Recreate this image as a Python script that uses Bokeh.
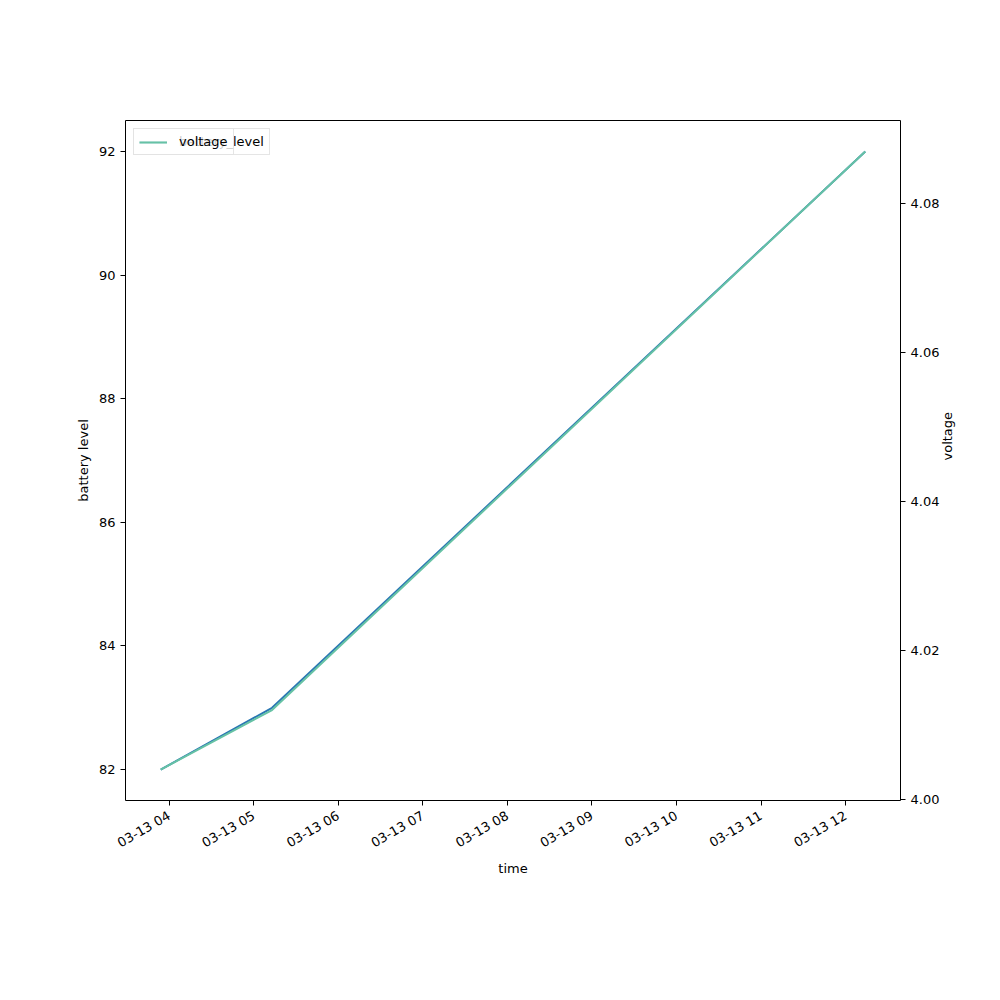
import math
from datetime import datetime
from bokeh.plotting import figure
from bokeh.models import (Range1d, LinearAxis, Legend, LegendItem, DatetimeTickFormatter,
                          FixedTicker, NumeralTickFormatter)
from bokeh.embed import file_html
from bokeh.resources import INLINE

# ---- data ----
times = [datetime(2024, 3, 13, 3, 54), datetime(2024, 3, 13, 5, 13), datetime(2024, 3, 13, 12, 14)]
battery_level = [82, 83, 92]
voltage = [4.004, 4.012, 4.087]
x_tick_hours = [4, 5, 6, 7, 8, 9, 10, 11, 12]
left_ticks = [82, 84, 86, 88, 90, 92]
right_ticks = [4.00, 4.02, 4.04, 4.06, 4.08]

FONT = "DejaVu Sans"

def ms(d):
    return (d - datetime(1970, 1, 1)).total_seconds() * 1000.0

tx = [ms(t) for t in times]
xpad = (max(tx) - min(tx)) * 0.05
bpad = (max(battery_level) - min(battery_level)) * 0.05
vpad = (max(voltage) - min(voltage)) * 0.05

p = figure(width=990, height=990, x_axis_type="datetime", output_backend="svg",
           toolbar_location=None,
           x_range=Range1d(min(tx) - xpad, max(tx) + xpad),
           y_range=Range1d(min(battery_level) - bpad, max(battery_level) + bpad),
           min_border_left=125, min_border_right=90, min_border_top=120, min_border_bottom=190)
p.extra_y_ranges = {"v": Range1d(min(voltage) - vpad, max(voltage) + vpad)}

p.xgrid.visible = False
p.ygrid.visible = False
p.outline_line_color = "black"
p.outline_line_alpha = 1.0
p.outline_line_width = 1

r_b = p.line(tx, battery_level, line_color="#2a77b3", line_width=2)
r_v = p.line(tx, voltage, line_color="#66c2a5", line_width=2, y_range_name="v")

raxis = LinearAxis(y_range_name="v")
p.add_layout(raxis, "right")

xticks = [ms(datetime(2024, 3, 13, h)) for h in x_tick_hours]
p.xaxis.ticker = FixedTicker(ticks=xticks)
p.xaxis.formatter = DatetimeTickFormatter(hours="%m-%d %H", days="%m-%d %H", minutes="%m-%d %H")
p.xaxis.major_label_orientation = math.pi / 6
p.yaxis[0].ticker = FixedTicker(ticks=left_ticks)
raxis.ticker = FixedTicker(ticks=right_ticks)
raxis.formatter = NumeralTickFormatter(format="0.00")

p.xaxis.axis_label = "time"
p.yaxis[0].axis_label = "battery level"
raxis.axis_label = "voltage"
raxis.axis_label_orientation = math.pi / 2

for ax in [p.xaxis[0], p.yaxis[0], raxis]:
    ax.axis_line_color = None
    ax.major_tick_out = 5
    ax.major_tick_in = 0
    ax.minor_tick_out = 0
    ax.minor_tick_in = 0
    ax.major_tick_line_color = "black"
    ax.major_label_text_font = FONT
    ax.major_label_text_font_size = "13px"
    ax.major_label_text_color = "black"
    ax.axis_label_text_font = FONT
    ax.axis_label_text_font_size = "13px"
    ax.axis_label_text_font_style = "normal"
    ax.axis_label_text_color = "black"

p.xaxis.major_label_standoff = 9
p.xaxis.axis_label_standoff = 1

def mk_legend(label, renderer):
    lg = Legend(items=[LegendItem(label=label, renderers=[renderer])],
                location="top_left", margin=8, padding=5, spacing=0,
                glyph_width=28, glyph_height=14, label_height=14, label_standoff=12,
                label_text_font=FONT, label_text_font_size="13px", label_text_color="black",
                border_line_color="#cccccc", border_line_width=1,
                background_fill_color="white", background_fill_alpha=0.8)
    return lg

p.add_layout(mk_legend("battery_level", r_b), "center")
p.add_layout(mk_legend("voltage", r_v), "center")

open("out.html", "w").write(file_html(p, INLINE))
